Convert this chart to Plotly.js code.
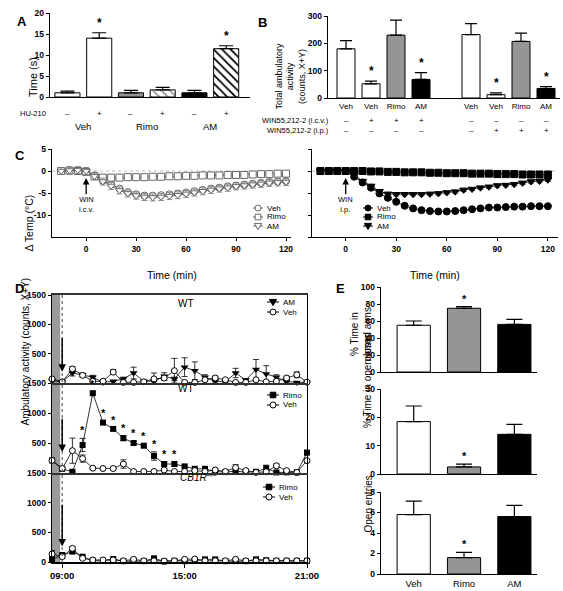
<!DOCTYPE html>
<html><head><meta charset="utf-8">
<script src="https://cdn.plot.ly/plotly-3.0.1.min.js"></script>
<style>html,body{margin:0;padding:0;background:#fff}#chart{width:563px;height:591px}</style>
</head><body><div id="chart"></div>
<script>
// ---------------- DATA ----------------
// Panel A
const aGroups = ['Veh', 'Rimo', 'AM'];
const aHU = ['–', '+', '–', '+', '–', '+'];
const aValues = [1.0, 14.0, 1.0, 1.7, 1.0, 11.5];
const aErrors = [0.4, 1.3, 0.6, 0.6, 0.6, 0.7];
const aStars = [false, true, false, false, false, true];

// Panel B
const bLabels = ['Veh', 'Veh', 'Rimo', 'AM', 'Veh', 'Veh', 'Rimo', 'AM'];
const bValues = [180, 52, 230, 68, 232, 12, 207, 35];
const bErrors = [30, 10, 55, 25, 40, 7, 30, 7];
const bIcv = ['–', '+', '+', '+', '–', '–', '–', '–'];
const bIp = ['–', '–', '–', '–', '–', '+', '+', '+'];
const bStars = [false, true, false, true, false, true, false, true];

// Panel C (time, min)
const cTimes = [-15,-10,-5,0,5,10,15,20,25,30,35,40,45,50,55,60,65,70,75,80,85,90,95,100,105,110,115,120];
const cIcvVeh  = [0,0.2,0.1,0,-1.0,-2.2,-3.0,-4.0,-4.8,-5.3,-5.6,-5.6,-5.5,-5.3,-5.1,-4.9,-4.6,-4.3,-4.0,-3.8,-3.5,-3.3,-3.1,-2.9,-2.7,-2.5,-2.4,-2.3];
const cIcvRimo = [0,0.1,0,-0.2,-1.2,-1.5,-1.5,-1.5,-1.4,-1.4,-1.4,-1.3,-1.3,-1.2,-1.2,-1.1,-1.1,-1.0,-1.0,-1.0,-0.9,-0.9,-0.9,-0.8,-0.7,-0.7,-0.6,-0.6];
const cIcvAM   = [0,0.1,0.2,0,-1.2,-2.4,-3.4,-4.4,-5.1,-5.6,-5.9,-6.0,-5.9,-5.7,-5.5,-5.2,-4.9,-4.6,-4.3,-4.0,-3.8,-3.5,-3.3,-3.1,-2.9,-2.7,-2.6,-2.5];
const cIpVeh   = [0,0,0,0,-1.3,-2.6,-3.8,-5.1,-6.1,-7.0,-7.9,-8.5,-8.9,-9.1,-9.2,-9.2,-9.1,-8.9,-8.7,-8.5,-8.3,-8.3,-8.2,-8.1,-8.1,-8.0,-8.0,-8.0];
const cIpRimo  = [0,0,0,0,0,0,-0.1,-0.1,-0.2,-0.2,-0.3,-0.3,-0.3,-0.4,-0.4,-0.5,-0.5,-0.5,-0.6,-0.6,-0.6,-0.7,-0.7,-0.7,-0.8,-0.8,-0.8,-0.8];
const cIpAM    = [0,0,0,0,-0.8,-2.3,-3.4,-4.6,-5.2,-5.3,-5.3,-5.3,-5.3,-5.2,-5.1,-4.9,-4.7,-4.3,-4.1,-3.8,-3.6,-3.3,-3.2,-3.0,-2.7,-2.4,-2.3,-2.0];

// Panel D (30-min bins)
const dTimes = ['08:30','09:00','09:30','10:00','10:30','11:00','11:30','12:00','12:30','13:00','13:30','14:00','14:30','15:00','15:30','16:00','16:30','17:00','17:30','18:00','18:30','19:00','19:30','20:00','20:30','21:00'];
const dTopAM      = [40,20,170,140,100,10,30,70,170,30,30,115,70,270,210,100,30,20,170,50,230,155,100,25,10,10];
const dTopAMErr   = [20,10,50,30,30,5,10,30,100,10,10,60,30,160,150,40,10,10,80,20,170,140,40,10,5,5];
const dTopVeh     = [70,20,240,130,30,30,185,10,10,20,70,85,210,10,10,55,85,55,10,10,55,20,30,85,140,15];
const dTopVehErr  = [20,10,40,30,10,10,40,5,5,10,100,40,210,5,5,20,30,20,5,5,20,10,15,30,50,10];
const dMidRimo    = [210,70,20,467,1330,840,735,580,500,455,283,150,150,110,70,70,25,15,30,15,20,80,10,10,10,340];
const dMidRimoErr = [20,20,10,110,20,20,20,40,30,30,70,30,30,20,15,15,10,10,10,10,10,50,5,5,5,40];
const dMidRimoStar= [false,false,false,true,true,true,true,true,true,true,true,true,true,false,false,false,false,false,false,false,false,false,false,false,false,false];
const dMidVeh     = [210,75,372,240,80,75,75,150,25,25,25,50,25,25,40,25,50,25,90,40,10,20,120,40,10,206];
const dMidVehErr  = [20,20,210,60,10,10,10,70,5,5,5,20,5,5,10,5,10,5,50,10,5,10,30,10,5,30];
const dBotRimo    = [50,118,175,90,22,20,50,15,20,15,62,10,20,15,20,45,45,15,15,15,45,30,20,20,20,20];
const dBotRimoErr = [20,30,30,20,5,5,10,5,5,5,15,5,5,5,5,10,10,5,5,5,10,5,5,5,5,5];
const dBotVeh     = [135,90,230,62,34,34,34,20,45,20,20,15,20,45,50,20,20,20,45,20,20,20,20,20,20,20];
const dBotVehErr  = [60,30,30,20,5,5,10,5,10,5,5,5,5,10,10,5,5,5,10,5,5,5,5,5,5,5];

// Panel E
const eCats = ['Veh', 'Rimo', 'AM'];
const eClosed = [55, 75, 56];
const eClosedErr = [5, 2, 6];
const eOpen = [18.5, 2.5, 14];
const eOpenErr = [5.5, 1.0, 3.5];
const eEntries = [5.8, 1.6, 5.6];
const eEntriesErr = [1.3, 0.5, 1.1];
const eStars = [false, true, false];

// ---------------- HELPERS ----------------
const FONT = 'Liberation Sans, Arial, Helvetica, sans-serif';
const W = 563, H = 591;
const fx = p => p / W;
const fy = p => 1 - p / H;
const GRAY = '#959595';
const groupColor = g => g === 'Veh' ? '#ffffff' : (g === 'Rimo' ? GRAY : '#000000');
const zeros = arr => arr.map(() => 0);
const base = {
  showgrid: false, zeroline: false, showline: true, linecolor: '#000', linewidth: 1.3,
  ticks: 'outside', ticklen: 3, tickwidth: 1, tickcolor: '#000',
  tickfont: {family: FONT, size: 8.5, color: '#000', weight: 'bold'}, fixedrange: true
};
const ax = o => Object.assign({}, base, o);
const upErr = (arr, w) => ({type: 'data', array: arr, arrayminus: zeros(arr), symmetric: false, color: '#000', thickness: 1.2, width: w});

const traces = [];
const ann = [];
const shapes = [];

// small legend drawn with shapes + text (compact, like the original figure)
function legendItem(cx, cy, sym, filled, color, label, half) {
  shapes.push({type: 'line', xref: 'paper', yref: 'paper', x0: fx(cx - half), x1: fx(cx + half), y0: fy(cy), y1: fy(cy), line: {color: color, width: 1}});
  const fill = filled ? color : '#ffffff';
  const common = {xref: 'paper', yref: 'paper', fillcolor: fill, line: {color: color, width: 1}};
  if (sym === 'circle') shapes.push(Object.assign({type: 'circle', x0: fx(cx - 3), x1: fx(cx + 3), y0: fy(cy + 3), y1: fy(cy - 3)}, common));
  if (sym === 'square') shapes.push(Object.assign({type: 'rect', x0: fx(cx - 2.8), x1: fx(cx + 2.8), y0: fy(cy + 2.8), y1: fy(cy - 2.8)}, common));
  if (sym === 'triangle-down') shapes.push(Object.assign({type: 'path', path: `M ${fx(cx - 3.6)} ${fy(cy - 2.6)} L ${fx(cx + 3.6)} ${fy(cy - 2.6)} L ${fx(cx)} ${fy(cy + 3.6)} Z`}, common));
  ann.push({xref: 'paper', yref: 'paper', x: fx(cx + half + 1.5), xanchor: 'left', y: fy(cy), yanchor: 'middle', text: label, showarrow: false, font: {family: FONT, size: 8, color: '#000'}});
}

// ---------------- PANEL A ----------------
const aIds = aHU.map((s, i) => aGroups[Math.floor(i / 2)] + (s === '+' ? '+' : '-'));
const aCol = aIds.map((id, i) => groupColor(aGroups[Math.floor(i / 2)]));
traces.push({
  type: 'bar', x: aIds, y: aValues, xaxis: 'x', yaxis: 'y', width: 0.79, showlegend: false,
  marker: {
    color: aCol, line: {color: '#000', width: 1},
    pattern: {
      shape: aHU.map(s => s === '+' ? '\\' : ''),
      fgcolor: aIds.map((id, i) => aGroups[Math.floor(i / 2)] === 'AM' ? '#ffffff' : '#000000'),
      bgcolor: aCol, size: 6, solidity: 0.3
    }
  },
  error_y: upErr(aErrors, 7)
});
aIds.forEach((id, i) => {
  ann.push({xref: 'x', yref: 'paper', x: id, y: fy(107), text: aHU[i], showarrow: false, font: {family: FONT, size: 8, color: '#000'}});
  if (aStars[i]) ann.push({xref: 'x', yref: 'y', x: id, y: aValues[i] + aErrors[i], yshift: 1, yanchor: 'bottom', text: '*', showarrow: false, font: {family: FONT, size: 12, color: '#000', weight: 'bold'}});
});
aGroups.forEach((g, k) => ann.push({xref: 'x', yref: 'paper', x: 2 * k + 0.5, y: fy(119), text: g, showarrow: false, font: {family: FONT, size: 9.5, color: '#000'}}));
ann.push({xref: 'paper', yref: 'paper', x: fx(48), xanchor: 'right', y: fy(107), text: 'HU-210', showarrow: false, font: {family: FONT, size: 7.5, color: '#000'}});
ann.push({xref: 'paper', yref: 'paper', x: fx(25), y: fy(55), text: 'Time (s)', textangle: -90, showarrow: false, font: {family: FONT, size: 11, color: '#000'}});

// ---------------- PANEL B ----------------
const bIds = bLabels.map((l, i) => l + '_' + i);
const bOrder = bIds.slice(0, 4).concat(['gap']).concat(bIds.slice(4));
traces.push({
  type: 'bar', x: bIds, y: bValues, xaxis: 'x2', yaxis: 'y2', width: 0.72, showlegend: false,
  marker: {color: bLabels.map(groupColor), line: {color: '#000', width: 1}},
  error_y: upErr(bErrors, 6)
});
bIds.forEach((id, i) => {
  ann.push({xref: 'x2', yref: 'paper', x: id, y: fy(114), text: bIcv[i], showarrow: false, font: {family: FONT, size: 8, color: '#000'}});
  ann.push({xref: 'x2', yref: 'paper', x: id, y: fy(124), text: bIp[i], showarrow: false, font: {family: FONT, size: 8, color: '#000'}});
  if (bStars[i]) ann.push({xref: 'x2', yref: 'y2', x: id, y: bValues[i] + bErrors[i], yshift: 1, yanchor: 'bottom', text: '*', showarrow: false, font: {family: FONT, size: 12, color: '#000', weight: 'bold'}});
});
ann.push({xref: 'paper', yref: 'paper', x: fx(331), xanchor: 'right', y: fy(114), text: 'WIN55,212-2 (i.c.v.)', showarrow: false, font: {family: FONT, size: 7.5, color: '#000'}});
ann.push({xref: 'paper', yref: 'paper', x: fx(331), xanchor: 'right', y: fy(124), text: 'WIN55,212-2 (i.p.)', showarrow: false, font: {family: FONT, size: 7.5, color: '#000'}});
ann.push({xref: 'paper', yref: 'paper', x: fx(290), y: fy(41), text: 'Total ambulatory<br>activity<br>(counts, X+Y)', textangle: -90, showarrow: false, font: {family: FONT, size: 9, color: '#000'}});

// ---------------- PANEL C ----------------
const cLine = {color: '#666', width: 1};
const cMk = (sym, open) => ({symbol: sym, size: 7, color: open ? '#ffffff' : '#000', line: {color: open ? '#666' : '#000', width: 1}});
traces.push({type: 'scatter', mode: 'lines+markers', name: 'Veh', x: cTimes, y: cIcvVeh, xaxis: 'x3', yaxis: 'y3', showlegend: false, line: cLine, marker: cMk('circle', true), error_y: {type: 'constant', value: 0.5, color: '#777', thickness: 0.8, width: 3}, cliponaxis: false});
traces.push({type: 'scatter', mode: 'lines+markers', name: 'Rimo', x: cTimes, y: cIcvRimo, xaxis: 'x3', yaxis: 'y3', showlegend: false, line: cLine, marker: cMk('square', true), error_y: {type: 'constant', value: 0.3, color: '#777', thickness: 0.8, width: 3}, cliponaxis: false});
traces.push({type: 'scatter', mode: 'lines+markers', name: 'AM', x: cTimes, y: cIcvAM, xaxis: 'x3', yaxis: 'y3', showlegend: false, line: cLine, marker: cMk('triangle-down', true), error_y: {type: 'constant', value: 0.8, color: '#777', thickness: 0.8, width: 3}, cliponaxis: false});
traces.push({type: 'scatter', mode: 'lines+markers', name: 'Veh', x: cTimes, y: cIpVeh, xaxis: 'x4', yaxis: 'y4', showlegend: false, line: {color: '#333', width: 1}, marker: cMk('circle', false), error_y: {type: 'constant', value: 0.2, color: '#333', thickness: 0.8, width: 3}, cliponaxis: false});
traces.push({type: 'scatter', mode: 'lines+markers', name: 'Rimo', x: cTimes, y: cIpRimo, xaxis: 'x4', yaxis: 'y4', showlegend: false, line: {color: '#333', width: 1}, marker: cMk('square', false), cliponaxis: false});
traces.push({type: 'scatter', mode: 'lines+markers', name: 'AM', x: cTimes, y: cIpAM, xaxis: 'x4', yaxis: 'y4', showlegend: false, line: {color: '#333', width: 1}, marker: cMk('triangle-down', false), error_y: {type: 'constant', value: 0.35, color: '#333', thickness: 0.8, width: 3}, cliponaxis: false});
['x3', 'x4'].forEach((xa, k) => {
  const ya = k === 0 ? 'y3' : 'y4';
  shapes.push({type: 'line', xref: xa + ' domain', yref: ya, x0: 0, x1: 1, y0: 0, y1: 0, line: {color: '#aaa', width: 0.8, dash: 'dot'}, layer: 'below'});
  ann.push({xref: xa, yref: ya, axref: xa, ayref: ya, x: 0, y: -1.6, ax: 0, ay: -5.6, text: '', showarrow: true, arrowhead: 2, arrowsize: 1, arrowwidth: 1.3, arrowcolor: '#000'});
  ann.push({xref: xa, yref: ya, x: 0, y: -7.6, text: k === 0 ? 'WIN<br>i.c.v.' : 'WIN<br>i.p.', showarrow: false, font: {family: FONT, size: 7.5, color: '#000'}});
  ann.push({xref: xa + ' domain', yref: 'paper', x: 0.5, y: fy(275), text: 'Time (min)', showarrow: false, font: {family: FONT, size: 10.5, color: '#000'}});
});
ann.push({xref: 'paper', yref: 'paper', x: fx(20), y: fy(193), text: 'Δ Temp (°C)', textangle: -90, showarrow: false, font: {family: FONT, size: 10.5, color: '#000'}});
legendItem(258, 208, 'circle', false, '#666', 'Veh', 5);
legendItem(258, 217, 'square', false, '#666', 'Rimo', 5);
legendItem(258, 226, 'triangle-down', false, '#666', 'AM', 5);
legendItem(368, 208, 'circle', true, '#000', 'Veh', 5);
legendItem(368, 217, 'square', true, '#000', 'Rimo', 5);
legendItem(368, 226, 'triangle-down', true, '#000', 'AM', 5);

// ---------------- PANEL D ----------------
const dX = dTimes.map(t => '2000-01-01 ' + t);
const dLine = {color: '#000', width: 0.8};
const openCircle = {symbol: 'circle', size: 6, color: '#fff', line: {color: '#000', width: 1}};
const symErr = arr => ({type: 'data', array: arr, color: '#000', thickness: 0.8, width: 3});
traces.push({type: 'scatter', mode: 'lines+markers', name: 'AM', x: dX, y: dTopAM, xaxis: 'x7', yaxis: 'y7', showlegend: false, line: dLine, marker: {symbol: 'triangle-down', size: 7, color: '#000'}, error_y: symErr(dTopAMErr), cliponaxis: false});
traces.push({type: 'scatter', mode: 'lines+markers', name: 'Veh', x: dX, y: dTopVeh, xaxis: 'x7', yaxis: 'y7', showlegend: false, line: dLine, marker: openCircle, error_y: symErr(dTopVehErr), cliponaxis: false});
traces.push({type: 'scatter', mode: 'lines+markers', name: 'Rimo', x: dX, y: dMidRimo, xaxis: 'x6', yaxis: 'y6', showlegend: false, line: dLine, marker: {symbol: 'square', size: 6, color: '#000'}, error_y: symErr(dMidRimoErr), cliponaxis: false});
traces.push({type: 'scatter', mode: 'lines+markers', name: 'Veh', x: dX, y: dMidVeh, xaxis: 'x6', yaxis: 'y6', showlegend: false, line: dLine, marker: openCircle, error_y: symErr(dMidVehErr), cliponaxis: false});
traces.push({type: 'scatter', mode: 'lines+markers', name: 'Rimo', x: dX, y: dBotRimo, xaxis: 'x5', yaxis: 'y5', showlegend: false, line: dLine, marker: {symbol: 'square', size: 6, color: '#000'}, error_y: symErr(dBotRimoErr), cliponaxis: false});
traces.push({type: 'scatter', mode: 'lines+markers', name: 'Veh', x: dX, y: dBotVeh, xaxis: 'x5', yaxis: 'y5', showlegend: false, line: dLine, marker: openCircle, error_y: symErr(dBotVehErr), cliponaxis: false});
dX.forEach((t, i) => {
  if (dMidRimoStar[i]) ann.push({xref: 'x6', yref: 'y6', x: t, y: dMidRimo[i] + dMidRimoErr[i], yshift: 0, yanchor: 'bottom', text: '*', showarrow: false, font: {family: FONT, size: 11, color: '#000', weight: 'bold'}});
});
shapes.push({type: 'rect', xref: 'x5', yref: 'paper', x0: '2000-01-01 08:30', x1: '2000-01-01 08:54', y0: fy(562), y1: fy(295), fillcolor: '#9a9a9a', line: {width: 0}, layer: 'below'});
shapes.push({type: 'line', xref: 'x5', yref: 'paper', x0: dX[1], x1: dX[1], y0: fy(562), y1: fy(295), line: {color: '#444', width: 1, dash: 'dot'}});
[['y7', 790, 190], ['y6', 930, 350], ['y5', 990, 260]].forEach(([ya, tail, tip]) => {
  const xa = 'x' + ya.slice(1);
  ann.push({xref: xa, yref: ya, axref: xa, ayref: ya, x: dX[1], y: tip, ax: dX[1], ay: tail, text: '', showarrow: true, arrowhead: 2, arrowsize: 1, arrowwidth: 1.5, arrowcolor: '#000'});
});
ann.push({xref: 'paper', yref: 'paper', x: fx(176), y: fy(303), text: 'WT', showarrow: false, font: {family: FONT, size: 10, color: '#000'}});
ann.push({xref: 'paper', yref: 'paper', x: fx(176), y: fy(396), text: 'WT', showarrow: false, font: {family: FONT, size: 10, color: '#000'}});
ann.push({xref: 'paper', yref: 'paper', x: fx(178), y: fy(485), text: '<i>CB1R</i><sup>–/–</sup>', showarrow: false, font: {family: FONT, size: 10, color: '#000'}});
ann.push({xref: 'paper', yref: 'paper', x: fx(17), y: fy(428), text: 'Ambulatory activity (counts, X+Y)', textangle: -90, showarrow: false, font: {family: FONT, size: 10, color: '#000'}});
legendItem(273, 302, 'triangle-down', true, '#000', 'AM', 6);
legendItem(273, 312, 'circle', false, '#000', 'Veh', 6);
legendItem(273, 395, 'square', true, '#000', 'Rimo', 6);
legendItem(273, 405, 'circle', false, '#000', 'Veh', 6);
legendItem(269, 487, 'square', true, '#000', 'Rimo', 6);
legendItem(269, 497, 'circle', false, '#000', 'Veh', 6);

// ---------------- PANEL E ----------------
const eSets = [[eClosed, eClosedErr, 'x8', 'y8'], [eOpen, eOpenErr, 'x9', 'y9'], [eEntries, eEntriesErr, 'x10', 'y10']];
eSets.forEach(([vals, errs, xa, ya]) => {
  traces.push({type: 'bar', x: eCats, y: vals, xaxis: xa, yaxis: ya, width: 0.66, showlegend: false,
    marker: {color: eCats.map(groupColor), line: {color: '#000', width: 1}}, error_y: upErr(errs, 8)});
  eCats.forEach((c, i) => {
    if (eStars[i]) ann.push({xref: xa, yref: ya, x: c, y: vals[i] + errs[i], yshift: 0, yanchor: 'bottom', text: '*', showarrow: false, font: {family: FONT, size: 11, color: '#000', weight: 'bold'}});
  });
});
ann.push({xref: 'paper', yref: 'paper', x: fx(361), y: fy(334), text: '% Time in<br>closed arms', textangle: -90, showarrow: false, font: {family: FONT, size: 10, color: '#000'}});
ann.push({xref: 'paper', yref: 'paper', x: fx(367), y: fy(430), text: '% Time in open arms', textangle: -90, showarrow: false, font: {family: FONT, size: 10, color: '#000'}});
ann.push({xref: 'paper', yref: 'paper', x: fx(368), y: fy(535), text: 'Open entries', textangle: -90, showarrow: false, font: {family: FONT, size: 10, color: '#000'}});

// Panel letters
[['A', 15, 12], ['B', 262, 13], ['C', 13, 146], ['D', 13, 288], ['E', 340, 288]].forEach(([t, x, y]) =>
  ann.push({xref: 'paper', yref: 'paper', x: fx(x), y: fy(y), text: t, showarrow: false, font: {family: FONT, size: 13, color: '#000', weight: 'bold'}}));

// ---------------- LAYOUT ----------------
const dRange = ['2000-01-01 08:30', '2000-01-01 21:00'];
const eX = o => ax(Object.assign({type: 'category', categoryarray: eCats, range: [-0.65, 2.45], ticks: '', showticklabels: false}, o));

const layout = {
  width: W, height: H, margin: {l: 0, r: 0, t: 0, b: 0},
  paper_bgcolor: '#fff', plot_bgcolor: 'rgba(0,0,0,0)',
  font: {family: FONT, color: '#000'},
  showlegend: false,
  xaxis: ax({domain: [fx(50), fx(250)], anchor: 'y', type: 'category', categoryarray: aIds, range: [-0.55, 5.75], showticklabels: false, ticks: ''}),
  yaxis: ax({domain: [fy(97), fy(13)], anchor: 'x', range: [0, 20], tickvals: [0, 5, 10, 15, 20]}),
  xaxis2: ax({domain: [fx(328), fx(560)], anchor: 'y2', type: 'category', categoryarray: bOrder, range: [-0.72, 8.56], ticks: '', tickvals: bIds, ticktext: bLabels, tickfont: {family: FONT, size: 8, color: '#000'}}),
  yaxis2: ax({domain: [fy(98), fy(16)], anchor: 'x2', range: [0, 300], tickvals: [0, 100, 200, 300]}),
  xaxis3: ax({domain: [fx(52), fx(291)], anchor: 'y3', range: [-20.5, 123], tickvals: [0, 30, 60, 90, 120]}),
  yaxis3: ax({domain: [fy(237), fy(149)], anchor: 'x3', range: [-15, 5], tickvals: [-10, -5, 0, 5], ticktext: ['-10', '-5', '0', '5']}),
  xaxis4: ax({domain: [fx(312), fx(558)], anchor: 'y4', range: [-20, 126], tickvals: [0, 30, 60, 90, 120]}),
  yaxis4: ax({domain: [fy(237), fy(149)], anchor: 'x4', range: [-15, 5], tickvals: [-15, -10, -5, 0, 5], showticklabels: false}),
  xaxis5: ax({domain: [fx(52), fx(307)], anchor: 'y5', type: 'date', range: dRange, tickvals: ['2000-01-01 09:00', '2000-01-01 15:00', '2000-01-01 21:00'], ticktext: ['09:00', '15:00', '21:00'], ticklen: 4, tickfont: {family: FONT, size: 9.5, color: '#000', weight: 'bold'}, linewidth: 1.5}),
  xaxis6: ax({domain: [fx(52), fx(307)], anchor: 'y6', type: 'date', range: dRange, showticklabels: false, ticks: '', linewidth: 2, linecolor: '#333'}),
  xaxis7: ax({domain: [fx(52), fx(307)], anchor: 'y7', type: 'date', range: dRange, showticklabels: false, ticks: '', linewidth: 2, linecolor: '#333', mirror: true}),
  yaxis5: ax({domain: [fy(562), fy(473)], anchor: 'x5', range: [0, 1500], tickvals: [0, 500, 1000, 1500], mirror: true}),
  yaxis6: ax({domain: [fy(473), fy(383)], anchor: 'x6', range: [0, 1500], tickvals: [500, 1000, 1500], mirror: true}),
  yaxis7: ax({domain: [fy(383), fy(295)], anchor: 'x7', range: [0, 1500], tickvals: [500, 1000, 1500], mirror: true}),
  xaxis8: eX({domain: [fx(381), fx(537)], anchor: 'y8'}),
  xaxis9: eX({domain: [fx(381), fx(537)], anchor: 'y9'}),
  xaxis10: eX({domain: [fx(381), fx(537)], anchor: 'y10', showticklabels: true, tickfont: {family: FONT, size: 9.5, color: '#000'}}),
  yaxis8: ax({domain: [fy(372), fy(287)], anchor: 'x8', range: [0, 100], tickvals: [0, 20, 40, 60, 80, 100]}),
  yaxis9: ax({domain: [fy(474), fy(389)], anchor: 'x9', range: [0, 30], tickvals: [0, 10, 20, 30]}),
  yaxis10: ax({domain: [fy(574), fy(492)], anchor: 'x10', range: [0, 8], tickvals: [0, 2, 4, 6, 8]}),
  annotations: ann,
  shapes: shapes
};

Plotly.newPlot('chart', traces, layout, {displayModeBar: false, staticPlot: true});
</script>
</body></html>
